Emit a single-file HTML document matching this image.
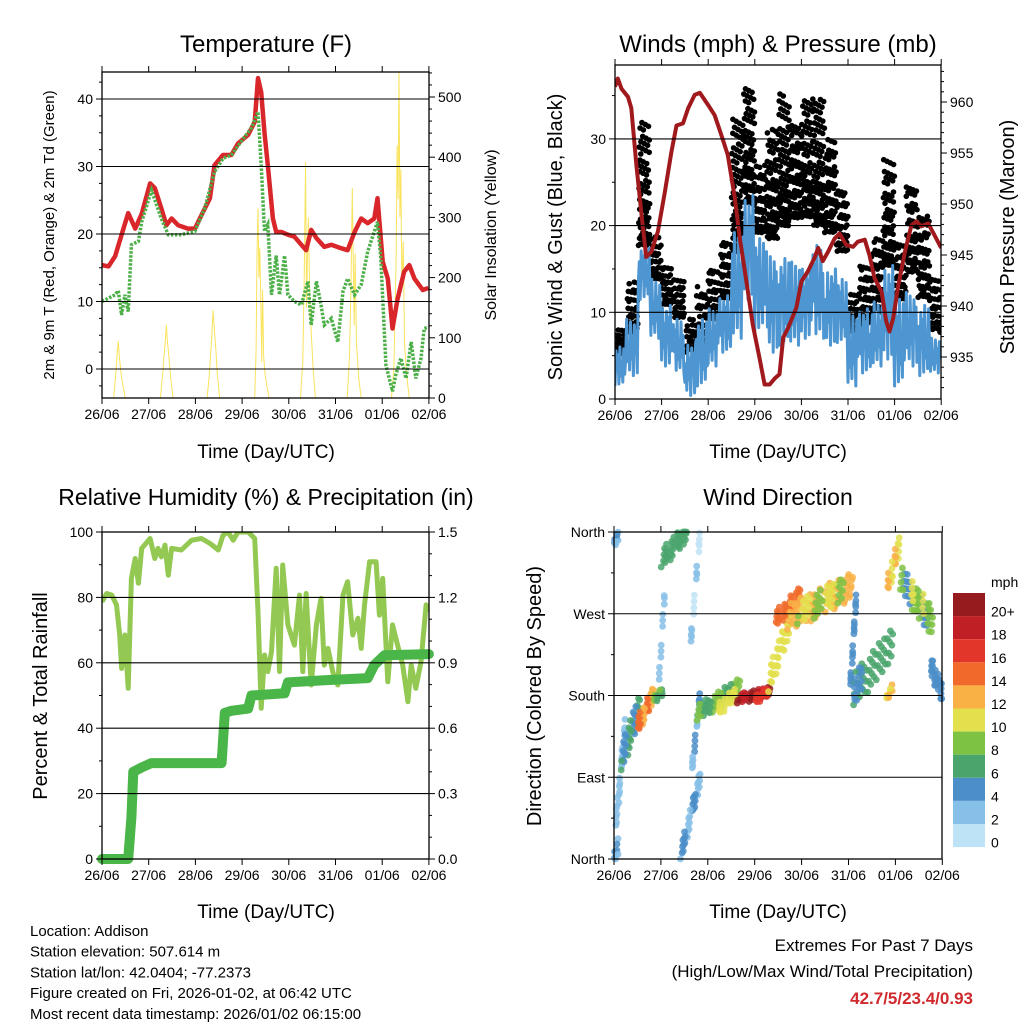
<!DOCTYPE html>
<html><head><meta charset="utf-8"><style>
html,body{margin:0;padding:0;background:#fff;}
svg{display:block;font-family:"Liberation Sans",sans-serif;}
</style></head><body>
<svg id="c" width="1024" height="1024" viewBox="0 0 1024 1024"></svg>
<script>
const dayLabels=['26/06','27/06','28/06','29/06','30/06','31/06','01/06','02/06'];
// Temperature (red)
const tTimes=[0,0.14,0.28,0.42,0.56,0.71,0.85,1.03,1.13,1.27,1.38,1.49,1.63,1.84,1.99,2.13,2.31,2.41,2.59,2.77,2.91,3.13,3.27,3.34,3.41,3.48,3.55,3.66,3.73,3.84,3.98,4.12,4.27,4.37,4.48,4.59,4.76,4.91,5.12,5.26,5.41,5.55,5.69,5.83,5.90,6.01,6.12,6.22,6.33,6.47,6.58,6.69,6.87,6.99];
const tVals=[15.4,15.2,16.7,19.9,23.1,20.8,23,27.5,26.8,23.8,21.3,22.3,21.3,20.8,20.8,22.8,25.3,30.2,31.7,31.7,33.4,34.7,36.6,43.1,41,35,30.2,22.3,20.3,20.3,19.9,19.6,18.4,17.6,20.6,19.4,18.1,18.4,17.9,17.6,20.3,22.3,21.6,22.3,25.3,15.9,13.4,6,10.4,14.4,15.4,13.4,11.7,12];
// Dewpoint (green)
const tdTimes=[0,0.28,0.35,0.42,0.49,0.56,0.63,0.78,0.85,1.06,1.27,1.42,1.70,1.99,2.20,2.41,2.59,2.77,2.98,3.20,3.34,3.41,3.48,3.55,3.63,3.73,3.80,3.91,3.98,4.12,4.27,4.41,4.48,4.59,4.69,4.76,4.91,5.05,5.16,5.26,5.41,5.55,5.69,5.90,5.97,6.08,6.22,6.29,6.40,6.51,6.62,6.72,6.83,6.90,6.99];
const tdVals=[10,11,11.6,8,11,8.5,18.4,18.9,21.8,26.5,22.3,19.9,19.9,20.4,23.8,29.2,31.2,31.7,33.7,35.7,38.1,30.2,20.4,21.4,11,16.8,11,16.8,11,10,9.5,13,6.5,13,9.5,6.5,7.5,4,11.5,13.4,11,12.5,17.4,21.8,16.4,0.6,-3.3,-0.9,1.6,-1.4,4,-1.4,1.6,6,6.2];
// Solar insolation (yellow)
const solarTimes=[0,0.25,0.3,0.33,0.35,0.37,0.39,0.41,0.45,0.5,1.25,1.3,1.35,1.38,1.4,1.43,1.47,1.52,2.25,2.3,2.35,2.38,2.41,2.44,2.47,2.52,3.27,3.3,3.32,3.34,3.36,3.38,3.4,3.42,3.44,3.46,3.49,3.53,3.58,4.25,4.3,4.33,4.36,4.38,4.4,4.42,4.45,4.48,4.52,4.57,5.25,5.3,5.33,5.36,5.38,5.4,5.42,5.45,5.5,5.55,6.2,6.25,6.3,6.32,6.34,6.36,6.38,6.4,6.42,6.45,6.48,6.52,6.58,7];
const solarVals=[0,0,45,80,94,70,55,40,20,0,0,40,90,121,95,70,35,0,0,40,100,146,110,80,40,0,0,80,240,315,200,250,165,60,180,70,40,20,0,0,60,200,392,150,240,300,160,110,50,0,0,70,180,349,230,120,240,90,30,0,0,50,240,420,330,541,300,380,180,260,90,40,0,0];
// Winds
const windLo=[1.5,2.7,11.5,7,3.8,3,0.4,1.5,3.8,5.4,7,11.5,7.7,5.4,6.2,6.2,7,7,6.2,6.5,1.5,3,3.8,4.6,1.5,3.8,2.7,3];
const windHi=[6,9.2,17.7,13.8,10.8,9.2,6.5,9.2,10.4,11.9,19.2,23.5,18.5,17,16.2,15.8,15.4,17.7,15,13.8,10,10.4,11.2,15.4,11.5,12.3,10.8,7];
const gustLo=[5,7.7,17.7,13.8,10.8,9.2,5.4,6.2,9.2,11.5,17,22.3,19.2,18.5,20,20.8,20.8,20,19.2,17,7.7,8.5,10,15.4,11.5,14.6,11.5,7.7];
const gustHi=[8,13.5,32,19.2,15.4,13.8,9.2,13,15.4,18.5,32.7,35.8,27,31.2,35.4,32,34.6,34.6,30,24.6,12.3,15.4,18.5,27.7,18.5,25,21.2,13.8];
const presTimes=[0,0.06,0.14,0.28,0.35,0.46,0.57,0.67,0.78,0.92,1.07,1.21,1.32,1.46,1.57,1.71,1.82,2.0,2.14,2.28,2.42,2.57,2.68,2.82,2.96,3.10,3.21,3.32,3.43,3.53,3.61,3.71,3.89,4.0,4.14,4.28,4.36,4.46,4.57,4.71,4.82,4.96,5.11,5.21,5.36,5.46,5.57,5.72,5.82,5.89,5.97,6.07,6.22,6.36,6.47,6.57,6.72,6.86,7.0];
const presVals=[961.5,962.3,961.3,960.5,959.4,953.8,948.9,944.8,945.3,947.3,951.2,955.1,957.7,957.9,959.4,960.7,960.9,959.7,958.7,956.8,954.8,950.6,946.6,942.4,938.1,934.9,932.3,932.3,932.9,933.3,936.9,937.8,939.8,942.4,943.4,944.7,945.7,944.4,945.3,946.6,947.1,946.0,945.8,946.3,946.5,945.0,942.7,941.4,938.5,937.5,938.8,941.8,945.3,947.9,948.3,947.8,948.1,946.9,945.7];
// RH & precip
const rhTimes=[0,0.10,0.21,0.31,0.38,0.42,0.49,0.56,0.63,0.71,0.78,0.85,1.03,1.13,1.20,1.27,1.35,1.42,1.49,1.70,1.92,2.13,2.31,2.49,2.59,2.70,2.81,2.91,3.13,3.27,3.34,3.41,3.48,3.55,3.63,3.73,3.80,3.87,3.98,4.12,4.23,4.30,4.37,4.48,4.59,4.69,4.76,4.84,4.94,5.05,5.16,5.26,5.37,5.48,5.55,5.62,5.73,5.87,5.94,6.01,6.12,6.22,6.33,6.44,6.55,6.62,6.72,6.83,6.94,7.0];
const rhVals=[78.7,81.2,80.7,77.7,68.5,58.3,68.5,52.2,85.8,91.9,84.3,95,98,91.9,95,92.4,96,86.8,95,94.5,97.5,98,96.5,94.5,99,100,97.5,100,100,98,75.6,46.1,62.4,57.3,63.4,88.9,57.3,89.9,71.6,65.4,80.7,57.3,81.2,53.2,71.6,79.7,59.3,64.4,57.3,53.2,80.7,84.8,68.5,73.6,64.4,77.7,90.9,90.9,74.6,85.8,54.2,71.6,65.4,59.3,48.1,59.3,52.2,60.3,77.7,75.6];
const pcpTimes=[0,0.56,0.63,0.67,0.85,1.06,2.56,2.63,2.77,3.13,3.20,3.91,3.98,4.76,5.69,5.83,6.05,7.0];
const pcpVals=[0,0,0.19,0.40,0.42,0.44,0.44,0.67,0.68,0.69,0.75,0.76,0.81,0.82,0.83,0.89,0.935,0.94];
// Wind direction clusters
const cT0=[0,0,0.02,0.15,0.48,0.84,0.95,1.0,1.62,1.41,1.65,1.76,2.2,2.62,3.0,3.29,3.4,3.68,3.9,5.03,5.1,5.1,5.8,5.81,6.1,6.3,6.74];
const cT1=[0.1,0.1,0.25,0.55,0.84,1.05,1.09,1.55,1.84,1.84,1.84,2.69,2.6,3.33,3.3,3.75,3.97,5.1,4.9,5.17,5.95,5.3,5.95,6.1,6.8,6.75,7.0];
const cD0=[350,5,30,110,145,176,190,330,230,2,95,160,165,176,176,195,262,265,270,185,185,185,178,300,310,300,215];
const cD1=[356,15,150,165,180,184,300,358,360,88,180,190,180,184,184,258,290,300,295,290,235,200,190,345,255,265,180];
const cSpread=[8,15,15,20,12,6,10,14,10,12,10,12,10,7,7,18,12,20,18,10,25,20,6,15,20,18,14];
const cSpdA=[4,4,2,5,15,8,3,7,2,4,3,7,10,19,17,11,15,12,10,4,6,4,11,13,5,10,4];
const cSpdB=[3,3,2,7,13,7,2,6,1,3,4,8,11,20,16,10,14,13,8,4,7,5,12,11,8,9,5];
const cN=[8,8,25,40,30,12,12,35,18,35,18,50,18,40,14,35,30,80,40,20,50,15,8,20,50,18,25];
const speedColors=['#bfe3f6','#86c0e8','#4b8ec8','#4aa56c','#7ec244','#e3e04e','#f9b146','#f16a2b','#e3362b','#c11f26','#961b1f'];
const cbLabels=['20+','18','16','14','12','10','8','6','4','2','0'];

const NS='http://www.w3.org/2000/svg';
const svg=document.getElementById('c');
function mk(tag,attrs,parent){const e=document.createElementNS(NS,tag);for(const k in attrs)e.setAttribute(k,attrs[k]);(parent||svg).appendChild(e);return e;}
function txt(s,x,y,size,opts,parent){opts=opts||{};const e=mk('text',{x:x,y:y,'font-size':size,'text-anchor':opts.anchor||'middle',fill:opts.fill||'#000'},parent);if(opts.bold)e.setAttribute('font-weight','bold');if(opts.rot)e.setAttribute('transform','rotate('+opts.rot+' '+x+' '+y+')');e.textContent=s;return e;}
function poly(xs,ys,sx,sy,attrs,parent){let p='';for(let i=0;i<xs.length;i++)p+=(i?'L':'M')+sx(xs[i]).toFixed(1)+','+sy(ys[i]).toFixed(1);attrs.d=p;attrs.fill='none';return mk('path',attrs,parent);}
function frac(v){return v-Math.floor(v);}

function frame(g,x0,y0,x1,y1,xs,dayN){
  mk('rect',{x:x0,y:y0,width:x1-x0,height:y1-y0,fill:'none',stroke:'#000','stroke-width':1.3},g);
  for(let i=0;i<dayN;i++){const x=xs(i);
    mk('line',{x1:x,y1:y1,x2:x,y2:y1+6,stroke:'#000'},g);
    mk('line',{x1:x,y1:y0,x2:x,y2:y0-6,stroke:'#000'},g);
    const t=txt(dayLabels[i],x,y1+21,14,{},g);
    
    
  }
}
function yTicks(g,x,vals,sy,labels,side,grid,gx0,gx1,minor){
  vals.forEach((v,i)=>{const y=sy(v);
    mk('line',{x1:x,y1:y,x2:x+(side<0?-6:6),y2:y,stroke:'#000'},g);
    if(grid)mk('line',{x1:gx0,y1:y,x2:gx1,y2:y,stroke:'#000','stroke-width':1.1},g);
    if(labels){const t=txt(labels[i],x+(side<0?-9:9),y+5,14,{anchor:side<0?'end':'start'},g);
      
      }
  });
  if(minor)minor.forEach(v=>{const y=sy(v);mk('line',{x1:x,y1:y,x2:x+(side<0?-3:3),y2:y,stroke:'#000'},g);});
}

// ========== Panel 1: Temperature ==========
(function(){
  const g=mk('g',{});
  
  const sx=d=>102+d*46.7, sy=v=>369-v*6.75, ss=v=>398-v*0.602;
  const clip=mk('clipPath',{id:'cp1'},g);mk('rect',{x:102,y:72,width:327,height:326},clip);
  const pg=mk('g',{'clip-path':'url(#cp1)'},g);
  yTicks(g,102,[0,10,20,30,40],sy,['0','10','20','30','40'],-1,true,102,429,[-2.5,2.5,5,7.5,12.5,15,17.5,22.5,25,27.5,32.5,35,37.5,42.5]);
  const mn=[];for(let v=20;v<=540;v+=20)if(v%100)mn.push(v);
  yTicks(g,429,[0,100,200,300,400,500],ss,['0','100','200','300','400','500'],1,false,0,0,mn);
  const s=poly(solarTimes,solarVals,sx,ss,{stroke:'#f9e04b','stroke-width':1,'stroke-opacity':0.9},pg);
  
  const r=poly(tTimes,tVals,sx,sy,{stroke:'#d9262b','stroke-width':4.5,'stroke-linejoin':'round'},pg);
  
  const gr=poly(tdTimes,tdVals,sx,sy,{stroke:'#4caf48','stroke-width':3.5,'stroke-dasharray':'2.5 1.5'},pg);
  
  frame(g,102,72,429,398,d=>102+d*46.7,8);
  const t=txt('Temperature (F)',266,52,24,{},g);
  const xl=txt('Time (Day/UTC)',266,458,19,{},g);
  const yl=txt('2m & 9m T (Red, Orange) & 2m Td (Green)',54,235,15,{rot:-90},g);
  const yr=txt('Solar Insolation (Yellow)',496,235,16,{rot:-90},g);
})();

// ========== Panel 2: Winds ==========
(function(){
  const g=mk('g',{});
  
  const sx=d=>615+d*46.6, sy=v=>399-v*8.67, sp=p=>102+(960-p)*10.2;
  const clip=mk('clipPath',{id:'cp2'},g);mk('rect',{x:615,y:65,width:326,height:334},clip);
  const pg=mk('g',{'clip-path':'url(#cp2)'},g);
  yTicks(g,615,[0,10,20,30],sy,['0','10','20','30'],-1,true,615,941,[5,15,25,35]);
  const mn=[];for(let v=932;v<=963;v++)if(v%5)mn.push(v);
  yTicks(g,941,[935,940,945,950,955,960],sp,['935','940','945','950','955','960'],1,false,0,0,mn);
  const pat=[0,1,0.3,0.8,0.1,0.9,0.25,0.7,0.05,0.95,0.4,0.6];
  const bw=0.25;
  const dg=mk('g',{fill:'#000'},pg);
  
  for(let i=0;i<gustLo.length;i++){
    const lo=gustLo[i],hi=gustHi[i];
    const n=Math.round(8+(hi-lo)*4.5);
    for(let j=0;j<n;j++){
      const t=i*bw+frac(j*0.7548777+i*0.31)*bw;
      let u=frac(j*0.5698403+i*0.17);
      u=Math.pow(u,1.35);
      const v=lo+u*(hi-lo);
      mk('circle',{cx:sx(t).toFixed(1),cy:sy(v).toFixed(1),r:2.8},dg);
    }
  }
  const wt=[],wv=[];
  for(let i=0;i<windLo.length;i++){for(let j=0;j<12;j++){wt.push(i*bw+j*bw/12);wv.push(windLo[i]+(windHi[i]-windLo[i])*pat[(j*5+i)%12]);}}
  const w=poly(wt,wv,sx,sy,{stroke:'#4e96d2','stroke-width':3,'stroke-linejoin':'round'},pg);
  
  const p=poly(presTimes,presVals,sx,sp,{stroke:'#a0191d','stroke-width':4,'stroke-linejoin':'round'},pg);
  
  frame(g,615,65,941,399,sx,8);
  const t=txt('Winds (mph) & Pressure (mb)',778,52,24,{},g);
  const xl=txt('Time (Day/UTC)',778,458,19,{},g);
  const yl=txt('Sonic Wind & Gust (Blue, Black)',562,237,20,{rot:-90},g);
  const yr=txt('Station Pressure (Maroon)',1014,237,20,{rot:-90},g);
})();

// ========== Panel 3: RH ==========
(function(){
  const g=mk('g',{});
  
  const sx=d=>102+d*46.7, sy=v=>859-v*3.27, sp=v=>859-v*218;
  const clip=mk('clipPath',{id:'cp3'},g);mk('rect',{x:96,y:526,width:345,height:345},clip);
  const pg=mk('g',{'clip-path':'url(#cp3)'},g);
  yTicks(g,102,[0,20,40,60,80,100],sy,['0','20','40','60','80','100'],-1,true,102,429,[10,30,50,70,90]);
  yTicks(g,429,[0,0.3,0.6,0.9,1.2,1.5],sp,['0.0','0.3','0.6','0.9','1.2','1.5'],1,false,0,0,[0.1,0.2,0.4,0.5,0.7,0.8,1.0,1.1,1.3,1.4]);
  const c2=mk('clipPath',{id:'cp3b'},g);mk('rect',{x:102,y:532,width:327,height:327},c2);
  const rh=poly(rhTimes,rhVals,sx,sy,{stroke:'#93c952','stroke-width':5,'stroke-linejoin':'round','clip-path':'url(#cp3b)'},pg);
  
  const pc=poly(pcpTimes,pcpVals,sx,sp,{stroke:'#4ab548','stroke-width':10,'stroke-linejoin':'round','stroke-linecap':'round'},pg);
  
  frame(g,102,532,429,859,sx,8);
  const t=txt('Relative Humidity (%) & Precipitation (in)',266,505,23,{},g);
  const xl=txt('Time (Day/UTC)',266,918,19,{},g);
  const yl=txt('Percent & Total Rainfall',47,696,20,{rot:-90},g);
})();

// ========== Panel 4: Wind Direction ==========
(function(){
  const g=mk('g',{});
  
  const sx=d=>614+d*46.9, sy=v=>859-v*0.9083;
  const clip=mk('clipPath',{id:'cp4'},g);mk('rect',{x:609,y:528,width:338,height:336},clip);
  const pg=mk('g',{'clip-path':'url(#cp4)'},g);
  yTicks(g,614,[0,90,180,270,360],sy,['North','East','South','West','North'],-1,true,614,942,[45,135,225,315]);
  const dg=mk('g',{'fill-opacity':0.85},pg);
  
  for(let c=0;c<cT0.length;c++){
    const n=cN[c];
    for(let j=0;j<n;j++){
      const f=frac(j*0.7548777+0.1);
      const t=cT0[c]+(cT1[c]-cT0[c])*f;
      const d=cD0[c]+(cD1[c]-cD0[c])*f+(frac(j*0.5698403+0.3)-0.5)*cSpread[c]*1.6;
      const sp=(j%2)?cSpdB[c]:cSpdA[c];
      const col=speedColors[Math.min(10,Math.floor(sp/2))];
      mk('circle',{cx:sx(t).toFixed(1),cy:sy(Math.max(0,Math.min(360,d))).toFixed(1),r:3.4,fill:col},dg);
    }
  }
  frame(g,614,532,942,859,sx,8);
  const cb=mk('g',{},g);
  
  const h=23.1;
  for(let i=0;i<11;i++){
    mk('rect',{x:953,y:(593+i*h).toFixed(1),width:32,height:h.toFixed(1),fill:speedColors[10-i]},cb);
    txt(cbLabels[i],991,(593+i*h+h/2+12).toFixed(1),14,{anchor:'start'},cb);
  }
  txt('mph',991,587,14,{anchor:'start'},cb);
  const t=txt('Wind Direction',778,505,23,{},g);
  const xl=txt('Time (Day/UTC)',778,918,19,{},g);
  const yl=txt('Direction (Colored By Speed)',541,696,20,{rot:-90},g);
})();

// ========== Footer text ==========
(function(){
  const g=mk('g',{});
  
  ['Location: Addison','Station elevation: 507.614 m','Station lat/lon: 42.0404; -77.2373','Figure created on Fri, 2026-01-02, at 06:42 UTC','Most recent data timestamp: 2026/01/02 06:15:00'].forEach((s,i)=>{txt(s,30,936+i*20.7,15,{anchor:'start'},g);});
  const g2=mk('g',{});
  
  txt('Extremes For Past 7 Days',973,951,17,{anchor:'end'},g2);
  txt('(High/Low/Max Wind/Total Precipitation)',973,977,17,{anchor:'end'},g2);
  txt('42.7/5/23.4/0.93',973,1004,17,{anchor:'end',fill:'#d02a2e',bold:true},g2);
})();
</script>
</body></html>
